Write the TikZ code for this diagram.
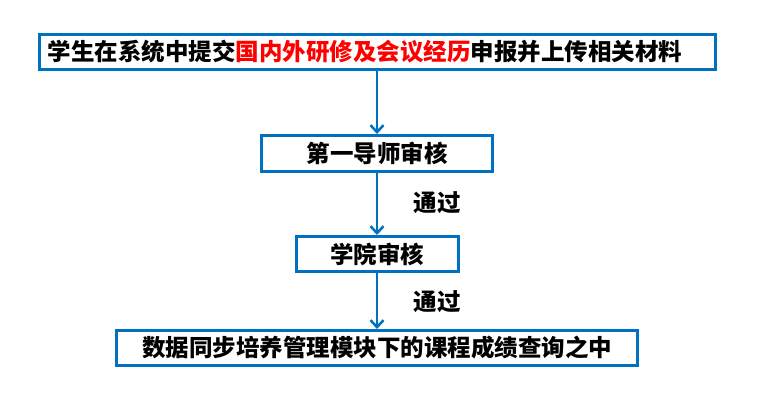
\documentclass[tikz,border=0pt]{standalone}
\usepackage{fontspec}
\newfontfamily\cjk{Noto Sans CJK SC}
\usetikzlibrary{arrows.meta, positioning}
\definecolor{boxblue}{RGB}{0,112,192}
\definecolor{hired}{RGB}{255,0,0}

\begin{document}
\begin{tikzpicture}[x=1pt, y=-1pt,
  box/.style={draw=boxblue, line width=3pt, inner sep=0pt, align=center,
    font=\cjk\bfseries\fontsize{23.5}{28}\selectfont},
  lbl/.style={font=\cjk\bfseries\fontsize{23.5}{28}\selectfont},
  arr/.style={draw=boxblue, line width=2.5pt, -{Straight Barb[length=7pt,width=13pt]}}]
\useasboundingbox (0,0) rectangle (771,414);

\node[box, inner xsep=8.5pt, text width=659pt, align=left, minimum height=35pt] (submit) at (377,52)
  {学生在系统中提交\textcolor{hired}{国内外研修及会议经历}申报并上传相关材料};
\node[box, minimum width=231pt, minimum height=36pt] (tutor) at (377,153.5) {第一导师审核};
\node[box, minimum width=162pt, minimum height=35pt] (school) at (377,254) {学院审核};
\node[box, minimum width=521pt, minimum height=35pt] (record) at (377,348) {数据同步培养管理模块下的课程成绩查询之中};

\draw[arr] (submit) -- (tutor);
\draw[arr] (tutor) -- (school);
\draw[arr] (school) -- (record);

\node[lbl] (pass1) at (437,203) {通过};
\node[lbl] (pass2) at (437,302) {通过};
\end{tikzpicture}
\end{document}
